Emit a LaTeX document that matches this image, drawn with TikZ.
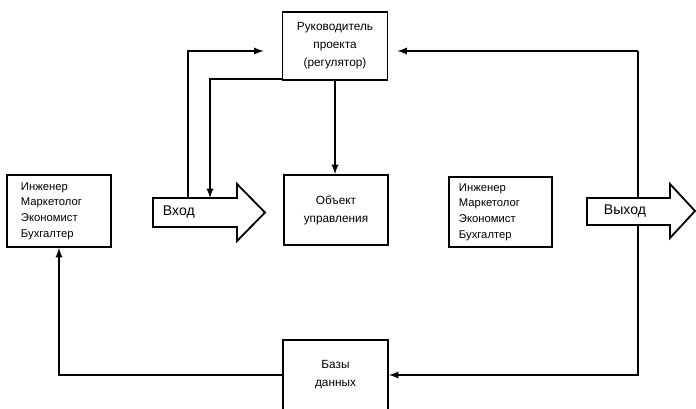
\documentclass[tikz,border=0pt]{standalone}
\usepackage{fontspec}
\setmainfont{Liberation Sans}
\usepackage{tikz}
\usetikzlibrary{arrows}
\usetikzlibrary{positioning}
\tikzset{>=latex}

\begin{document}
\begin{tikzpicture}[x=0.025cm, y=-0.025cm, line width=1.3pt,
        box/.style={draw, minimum width=2.6cm, minimum height=1.75cm, align=center,
            font=\fontsize{8.4}{12.8}\selectfont},
        staff/.style={draw, minimum height=1.8cm, align=left,
            font=\fontsize{8}{11.2}\selectfont},
        flow/.style={font=\fontsize{10}{12}\selectfont, anchor=west, inner sep=0pt}]
            \useasboundingbox (0,0) rectangle (696,408);
            \clip (0,0) rectangle (696,408);
            \node [box, minimum width=2.625cm, minimum height=1.7cm] (Boss) at (335,46)
                {Руководитель\\проекта\\(регулятор)};
            \node [box] (Plant) at (336,210) {Объект\\управления};
            \node [box, minimum width=2.625cm] (Dbase) at (335.5,375) {Базы\\данных};
            \node [staff, text width=1.9cm, inner xsep=0.35cm] (StaffL) at (59,211)
                {Инженер\\Маркетолог\\Экономист\\Бухгалтер\\[3pt]};
            \node [staff, text width=2.075cm, inner xsep=0.25cm, minimum height=1.75cm] (StaffR) at (500.5,212)
                {Инженер\\Маркетолог\\Экономист\\Бухгалтер\\[3pt]};
            \draw (153,198) -- (237,198) -- (237,184) -- (265,212.5) -- (237,241) -- (237,227)
                -- (153,227) -- cycle;
            \node [flow] (In) at (162,212.5) {Вход};
            \coordinate (InA) at (188,198);
            \coordinate (InB) at (210,198);
            \coordinate (Rtop) at (638,51);
            \draw [->] (InA) |- ([xshift=-0.45cm, yshift=-0.125cm]Boss.west);
            \draw [->] ([yshift=0.05cm]Boss.south west) -| (InB);
            \draw [->] (Boss.south) -- (Boss.south |- Plant.north);
            \draw [->] (Rtop) -- ([xshift=0.225cm]Boss.east |- Rtop);
            \draw [->] (Rtop) |- (Dbase.east);
            \draw [->] (Dbase.west) -| (StaffL.south);
            \filldraw [fill=white] (587,198) -- (670,198) -- (670,184) -- (695,211) -- (670,238)
                -- (670,225) -- (587,225) -- cycle;
            \node [flow] (Out) at (603,211.5) {Выход};
        \end{tikzpicture}
\end{document}
